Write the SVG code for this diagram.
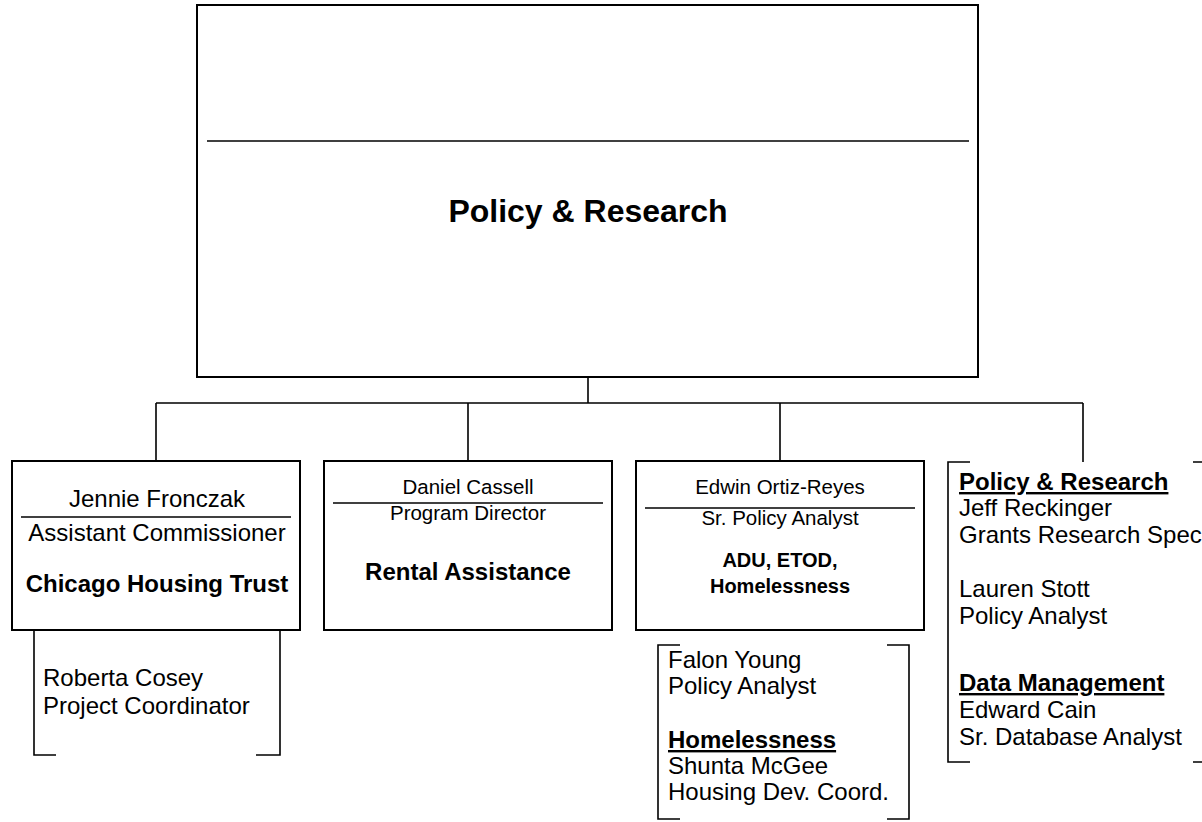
<svg xmlns="http://www.w3.org/2000/svg" width="1202" height="822" viewBox="0 0 1202 822">
<style>
.box{fill:#fff;stroke:#000;stroke-width:2}
.rule{stroke:#000;stroke-width:1.6}
.br{fill:none;stroke:#000;stroke-width:1.6}
.con{fill:none;stroke:#000;stroke-width:1.6}
text{font-family:"Liberation Sans",Arial,sans-serif;fill:#000}
.c{text-anchor:middle}
.b{font-weight:bold}
.u{text-decoration:underline}
.s24{font-size:24px}
.s21{font-size:20.5px}
.s20{font-size:20px}
</style>
<rect width="1202" height="822" fill="#fff"/>
<g id="connectors">
<path class="con" d="M588 377V403M156 403H1083M156 403V461M468 403V461M780 403V461M1083 403V462"/>
</g>
<g id="top">
<rect class="box" x="197" y="5" width="781" height="372"/>
<line class="rule" x1="207" y1="141" x2="969" y2="141"/>
<text class="c b" x="588" y="222" font-size="32">Policy &amp; Research</text>
</g>
<g id="fronczak">
<rect class="box" x="12" y="461" width="288" height="169"/>
<text class="c s24" x="157" y="507">Jennie Fronczak</text>
<line class="rule" x1="21" y1="517" x2="291" y2="517"/>
<text class="c s24" x="157" y="541">Assistant Commissioner</text>
<text class="c b s24" x="157" y="592">Chicago Housing Trust</text>
</g>
<g id="cosey">
<path class="br" d="M56 755H34V630M256 755H280V630"/>
<text class="s24" x="43" y="686">Roberta Cosey</text>
<text class="s24" x="43" y="714">Project Coordinator</text>
</g>
<g id="cassell">
<rect class="box" x="324" y="461" width="288" height="169"/>
<text class="c s21" x="468" y="494">Daniel Cassell</text>
<line class="rule" x1="333" y1="503" x2="603" y2="503"/>
<text class="c s21" x="468" y="520">Program Director</text>
<text class="c b s24" x="468" y="580">Rental Assistance</text>
</g>
<g id="ortiz-reyes">
<rect class="box" x="636" y="461" width="288" height="169"/>
<text class="c s21" x="780" y="494">Edwin Ortiz-Reyes</text>
<line class="rule" x1="645" y1="508" x2="915" y2="508"/>
<text class="c s21" x="780" y="525">Sr. Policy Analyst</text>
<text class="c b s20" x="780" y="567">ADU, ETOD,</text>
<text class="c b s20" x="780" y="593">Homelessness</text>
</g>
<g id="young-mcgee">
<path class="br" d="M680 645H658V819H680M887 645H909V819H887"/>
<text class="s24" x="668" y="668">Falon Young</text>
<text class="s24" x="668" y="694">Policy Analyst</text>
<text class="s24 b u" x="668" y="748">Homelessness</text>
<text class="s24" x="668" y="774">Shunta McGee</text>
<text class="s24" x="668" y="800">Housing Dev. Coord.</text>
</g>
<g id="policy-research-staff">
<path class="br" d="M970 462H948V762H970M1193 462H1215V762H1193"/>
<text class="s24 b u" x="959" y="490">Policy &amp; Research</text>
<text class="s24" x="959" y="516">Jeff Reckinger</text>
<text class="s24" x="959" y="543">Grants Research Spec</text>
<text class="s24" x="959" y="597">Lauren Stott</text>
<text class="s24" x="959" y="624">Policy Analyst</text>
<text class="s24 b u" x="959" y="691">Data Management</text>
<text class="s24" x="959" y="718">Edward Cain</text>
<text class="s24" x="959" y="745">Sr. Database Analyst</text>
</g>
</svg>
